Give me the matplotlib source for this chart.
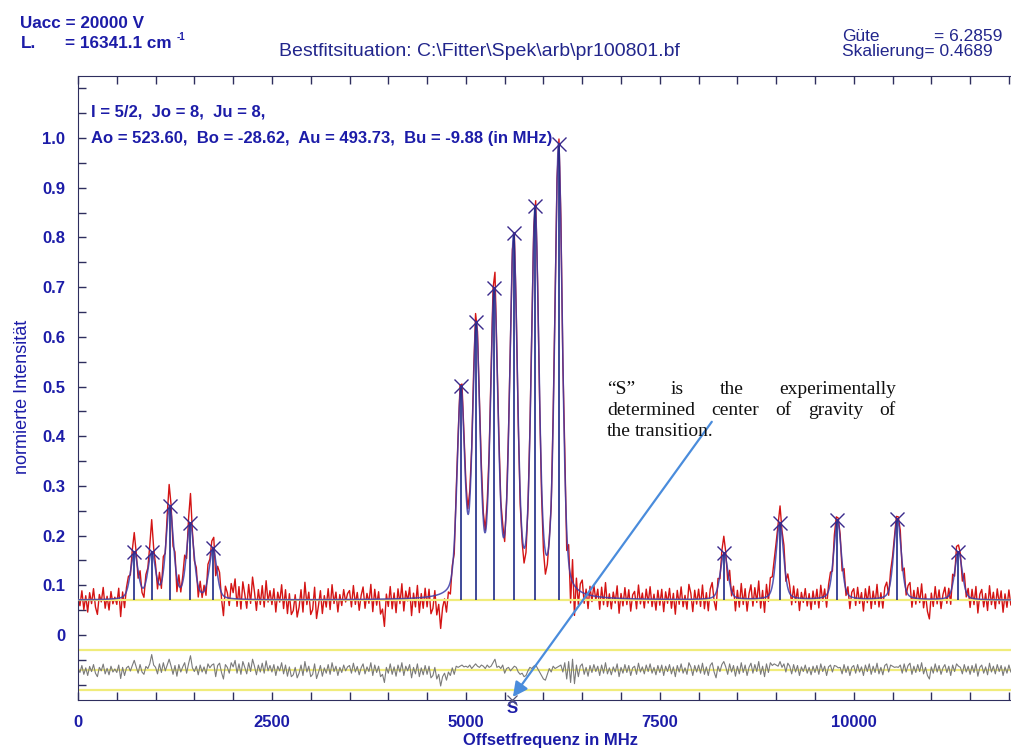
import matplotlib
matplotlib.use("Agg")
import matplotlib.pyplot as plt
import numpy as np

# fitted hyperfine components: position (MHz) and peak intensity
peak_pos = [725, 950, 1182, 1447, 1740,
            4936, 5133, 5365, 5615, 5893, 6195,
            8329, 9047, 9790, 10563, 11350]
peak_height = [0.166, 0.167, 0.260, 0.225, 0.174,
               0.501, 0.630, 0.699, 0.808, 0.863, 0.989,
               0.164, 0.225, 0.231, 0.233, 0.166]

baseline = 0.07          # untergrund
skalierung = 0.4689      # scaling of the residual trace
resid_zero = -0.07
resid_band = [-0.03, -0.07, -0.11]
s_pos = 5590             # centre of gravity "S"

freq_step = 25           # MHz per channel
# measured minus fit, per channel, in units of 1e-3
noise = [
    5, -12, 18, -20, 8, -25, 14, -8, 22, -15, -30, 10, -5, 24, -18, 6, -22, 15, -10, 3,
    -12, 20, -38, 10, -25, 8, 15, -6, 18, 40, 12, -15, 22, -10, -20, 14, 5, 25, 65, 20,
    10, -18, 25, -12, 30, -5, 20, 45, 15, -20, 18, -28, 22, -10, 12, 30, -15, 25, 60, 8,
    -8, 15, -22, 20, -10, 12, -18, 25, 8, 20, 25, -30, 18, 28, -12, -40, 22, 10, -15, 30,
    12, 40, -15, 25, -20, 35, 10, -18, 30, -8, 45, 15, -22, 20, -10, 28, -15, 38, -5, 18,
    -10, 22, -25, 15, -5, 30, -18, 20, -28, 12, -30, -22, 10, -35, -15, 20, -25, 35, -10, 15,
    -30, -20, 25, -38, -12, 18, -28, 8, -15, 22, -20, 30, -8, 15, -25, 10, -12, 20, -5, 12,
    18, -15, 28, -10, 14, -22, 8, 25, -18, 12, -8, 30, -25, 20, -12, 15, -30, -20, -55, 10,
    -15, 25, -20, 12, -28, 20, -10, 30, -25, 15, -5, 22, -35, 10, -18, 25, -30, 8, -22, 18,
    -20, 15, -35, -25, 10, -40, -20, -70, -30, -15, -45, -10, -25, 8, -20, 15, 10, 15, 20, 12,
    15, 10, 20, 5, 15, 25, 15, 10, 20, 15, 5, 20, 10, 15, 30, 45, 10, 15, 5, 20,
    -15, 5, 10, -5, 5, 15, 10, -10, -20, -15, -30, -25, -5, 10, 5, 15, 20, 5, -10, -25,
    -40, -45, -20, 5, -10, 15, 5, 10, 15, 20, -10, 30, -40, 35, -55, 45, -60, 20, -30, 15,
    25, -20, 10, -28, 18, -12, 22, -8, 15, -25, 20, -15, 30, -18, 8, -22, 12, -10, 25, -30,
    10, -15, 22, -12, 18, -25, 8, 15, -20, 28, -10, 12, -18, 20, -8, 25, -15, 10, -22, 18,
    -12, 20, -25, 15, -8, 22, -18, 12, -30, 18, -10, 25, -15, 8, -20, 30, 12, -25, 18, -10,
    20, -15, 28, -20, 12, -25, 18, 30, -10, -35, 15, -8, 22, 35, 12, -20, 25, -10, 18, -28,
    15, -18, 30, -12, 20, -25, 10, 28, -15, 22, -8, 35, -20, 15, -30, 25, -12, 30, 18, 25,
    20, 15, 35, 10, 25, -10, 28, 15, -18, 22, -10, 18, -25, 12, -8, 20, -15, 10, -22, 15,
    -12, 18, -20, 25, -8, 15, -25, 12, 20, -10, 18, 15, 8, 10, -18, 22, -12, 15, -25, 10,
    18, -15, 22, -10, 12, -25, 20, -8, 25, -20, 15, -12, 28, -18, 10, -22, 18, 25, -10, 20,
    15, 10, 12, 10, 20, -15, 25, -10, 18, 28, -20, 15, -12, 22, -8, 30, -18, 10, -25, -40,
    12, -15, 25, -10, 18, -20, 8, 22, -12, 15, -25, 20, -8, 25, 15, 10, -18, 22, -10, 15,
    -20, 18, -12, 25, -28, 10, 20, -15, 12, -22, 28, -10, 15, -18, 22, -8, 18, -25, 12, -15,
    20, -10,
]

xticks = [0, 2500, 5000, 7500, 10000]
yticks = [0, 0.1, 0.2, 0.3, 0.4, 0.5, 0.6, 0.7, 0.8, 0.9, 1.0]

W, H = 1012, 749
blue = '#1c1ca8'
navy = '#22268c'
frame = '#2e2e5e'
sans = 'Liberation Sans'


def px(x, y):
    # pixel position (from top left) to figure fraction
    return x / W, 1 - y / H


def profile(x, x0, fwhm=115., eta=0.35):
    # pseudo-Voigt line shape, unit height
    d = (np.asarray(x, dtype=float) - x0) / fwhm
    lor = 1. / (1. + 4. * d ** 2)
    gau = np.exp(-4. * np.log(2.) * d ** 2)
    return eta * lor + (1. - eta) * gau


# amplitudes so that the fit passes through the peak intensities
pos = np.array(peak_pos, dtype=float)
M = np.array([[profile(p, q) for q in pos] for p in pos])
amps = np.linalg.solve(M, np.array(peak_height) - baseline)


def fit(x):
    return baseline + sum(a * profile(x, q) for a, q in zip(amps, pos))


dev = np.array(noise) / 1000.
freq = np.arange(len(dev)) * freq_step
measured = fit(freq) + dev
residual = resid_zero + skalierung * dev
xf = np.arange(0, 12045, 5)

fig = plt.figure(figsize=(W / 100., H / 100.), dpi=100)
ax = fig.add_axes([78. / W, 49. / H, 934. / W, 624. / H])

ax.plot(freq, measured, color='#d41414', lw=1.0, zorder=2)
ax.axhline(baseline, color='#f0ec7a', lw=1.6, zorder=3)
for yb in resid_band:
    ax.axhline(yb, color='#f0ec7a', lw=1.6, zorder=1)
ax.plot(freq, residual, color='#7a7a7a', lw=0.8, zorder=2)
ax.plot(xf, fit(xf), color='#3c3ca8', lw=1.1, alpha=0.85, zorder=4)
ax.vlines(peak_pos, baseline, peak_height, color='#1e2a86', lw=1.2, zorder=5)
ax.plot(peak_pos, peak_height, ls='none', marker='x', ms=10, mew=1.0,
        color='#3a2a8c', zorder=6)

# centre of gravity marker on the frequency axis
ax.plot([s_pos], [-0.131], ls='none', marker='x', ms=7, mew=0.9,
        color='#555577', clip_on=False, zorder=6)
ax.text(s_pos, -0.148, 'S', color=blue, fontsize=12, fontweight='bold',
        family=sans, ha='center', va='center')

ax.set_xlim(0, 12040)
ax.set_ylim(-0.131, 1.125)
ax.set_xticks(xticks)
ax.set_xticks(np.arange(0, 12001, 500), minor=True)
ax.set_xticklabels([str(v) for v in xticks])
ax.set_yticks(yticks)
ax.set_yticks(np.arange(-0.1, 1.11, 0.05), minor=True)
ax.set_yticklabels(['0'] + ['%.1f' % v for v in yticks[1:]])
ax.tick_params(which='both', direction='in', length=6, width=1, color=frame,
               top=True, right=False)
ax.tick_params(axis='x', pad=11, labelsize=12, labelcolor=blue)
ax.tick_params(axis='y', pad=9, labelsize=12, labelcolor=blue)
for lab in ax.get_xticklabels() + ax.get_yticklabels():
    lab.set_fontweight('bold')
    lab.set_family(sans)
for side in ['left', 'bottom', 'top']:
    ax.spines[side].set_color(frame)
ax.spines['right'].set_visible(False)

# parameters of the fit
ax.text(*px(91, 112), 'I = 5/2,  Jo = 8,  Ju = 8,', transform=fig.transFigure,
        color=blue, fontsize=12, fontweight='bold', family=sans, va='center')
ax.text(*px(91, 138), 'Ao = 523.60,  Bo = -28.62,  Au = 493.73,  Bu = -9.88 (in MHz)',
        transform=fig.transFigure, color=blue, fontsize=12, fontweight='bold',
        family=sans, va='center')

# header
fig.text(*px(20, 23), 'Uacc = 20000 V', color=blue, fontsize=12.3,
         fontweight='bold', family=sans, va='center')
fig.text(*px(21, 43), 'L.', color=blue, fontsize=12.3, fontweight='bold',
         family=sans, va='center')
fig.text(*px(65, 43), '= 16341.1 cm', color=blue, fontsize=12.3,
         fontweight='bold', family=sans, va='center')
fig.text(*px(177, 37), '-1', color=blue, fontsize=7, fontweight='bold',
         family=sans, va='center')
fig.text(*px(279, 51), r'Bestfitsituation: C:\Fitter\Spek\arb\pr100801.bf',
         color=navy, fontsize=14, family=sans, va='center')
fig.text(*px(842, 41), 'Güte', color=navy, fontsize=12.5, family=sans,
         va='baseline')
fig.text(*px(1002, 41), '= 6.2859', color=navy, fontsize=12.5, family=sans,
         va='baseline', ha='right')
fig.text(*px(842, 56), 'Skalierung= 0.4689', color=navy, fontsize=12.5,
         family=sans, va='baseline')

fig.text(*px(551, 740), 'Offsetfrequenz in MHz', color=blue, fontsize=12,
         fontweight='bold', family=sans, ha='center', va='center')
fig.text(*px(23, 397), 'normierte Intensität', color=blue, fontsize=13,
         family=sans, rotation=90, ha='center', va='center')

# note on the centre of gravity, block justified between two margins
serif = 'Liberation Serif'
note_left, note_right = 607, 896
note_lines = [(394, ['\u201cS\u201d', 'is', 'the', 'experimentally'], True),
              (415, ['determined', 'center', 'of', 'gravity', 'of'], True),
              (436, ['the', 'transition.'], False)]
renderer = fig.canvas.get_renderer()
for yb, words, justify in note_lines:
    texts = [fig.text(0, 0, w, color='#111111', fontsize=14, family=serif,
                      va='baseline') for w in words]
    widths = [t.get_window_extent(renderer).width for t in texts]
    if justify:
        gap = (note_right - note_left - sum(widths)) / (len(words) - 1)
    else:
        gap = 4.
    x = note_left
    for t, wd in zip(texts, widths):
        t.set_position(px(x, yb))
        x += wd + gap

ax.annotate('', xy=(5606, -0.125), xytext=(8170, 0.429),
            arrowprops=dict(arrowstyle='-|>', color='#4a8cdc', lw=1.6,
                            mutation_scale=22, shrinkA=0, shrinkB=0),
            zorder=7)

fig.savefig('out.png', dpi=100)
